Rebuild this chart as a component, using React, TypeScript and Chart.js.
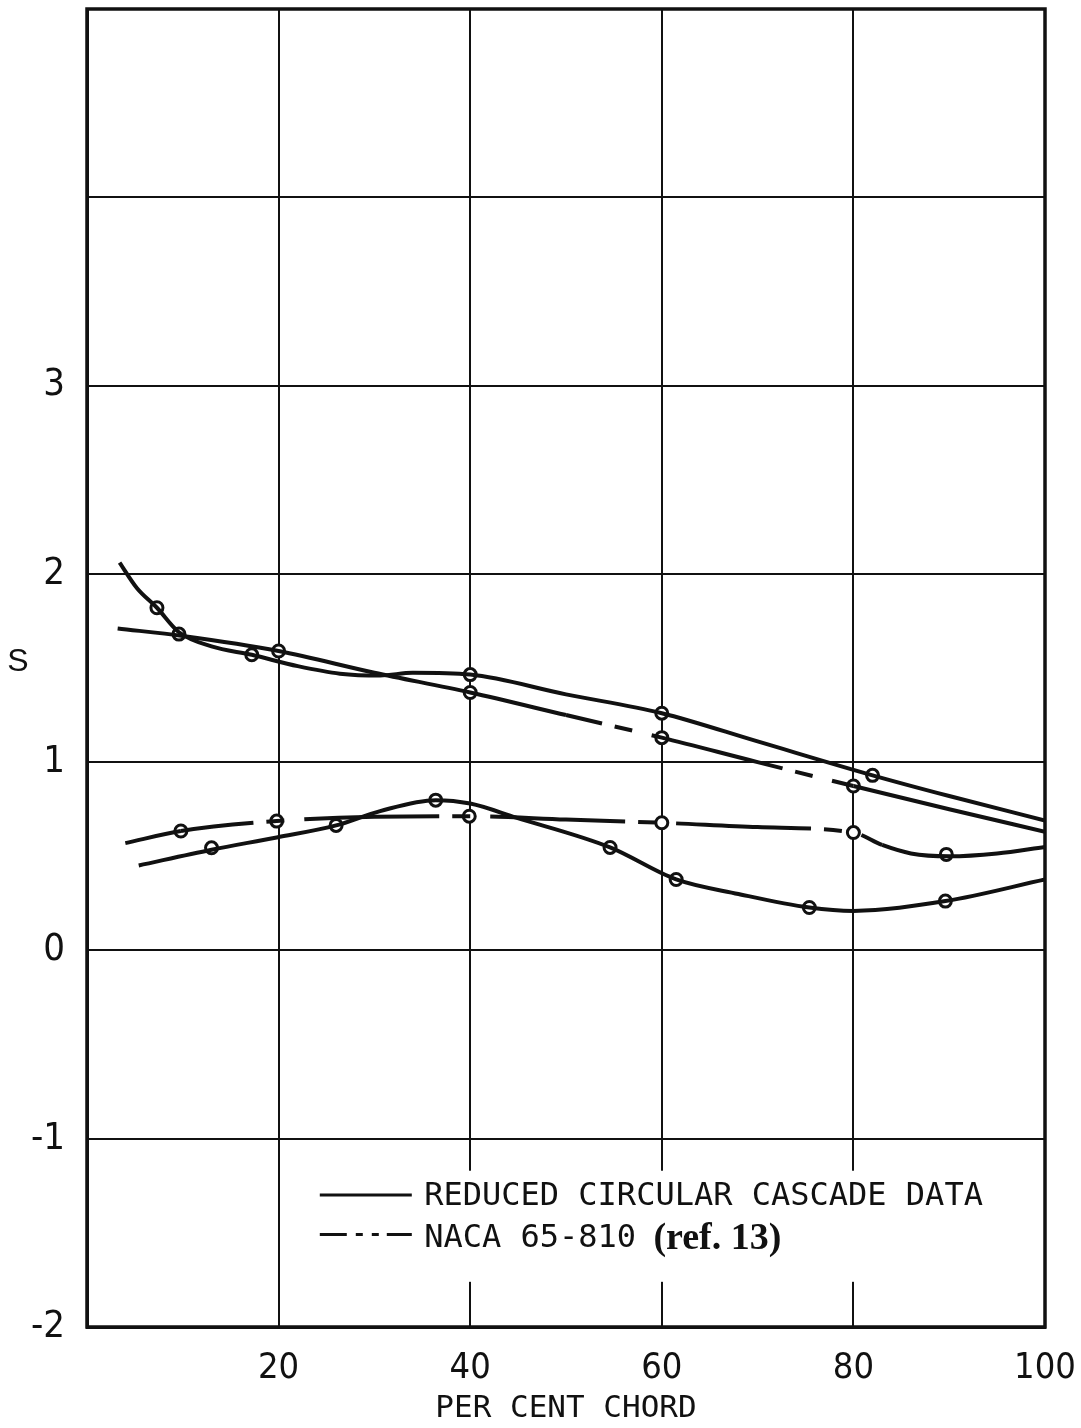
import React, { useEffect, useRef } from 'react';
import { Chart, registerables } from 'chart.js';

Chart.register(...registerables);

// ---- data (per cent chord, S) ----
const circUpperX = [3.4, 5.2, 7.3, 9.6, 13, 17.2, 22, 26.4, 30.6, 34, 40, 50, 60, 70, 82, 90, 100];
const circUpperS = [2.06, 1.925, 1.82, 1.69, 1.615, 1.57, 1.51, 1.47, 1.46, 1.475, 1.465, 1.36, 1.26, 1.11, 0.93, 0.82, 0.69];
const circUpperMarkX = [7.3, 9.6, 17.2, 40, 60, 82];
const circUpperMarkS = [1.82, 1.68, 1.57, 1.465, 1.26, 0.93];

const nacaUpperX = [3.2, 10, 20, 30, 40, 50, 60, 70, 80, 90, 100];
const nacaUpperS = [1.71, 1.67, 1.59, 1.475, 1.37, 1.25, 1.13, 1.0, 0.873, 0.75, 0.63];
const nacaUpperMarkX = [20, 40, 60, 80];
const nacaUpperMarkS = [1.59, 1.37, 1.13, 0.873];

const nacaLowerX = [4, 9.8, 19.8, 30, 40, 50, 60, 70, 80, 83, 86, 90, 95, 100];
const nacaLowerS = [0.57, 0.634, 0.687, 0.71, 0.713, 0.695, 0.678, 0.655, 0.626, 0.56, 0.515, 0.5, 0.515, 0.55];
const nacaLowerMarkX = [9.8, 19.8, 39.9, 60, 80, 89.7];
const nacaLowerMarkS = [0.634, 0.687, 0.713, 0.678, 0.626, 0.51];

const circLowerX = [5.4, 13, 19.8, 26, 30.6, 36.4, 40, 44.8, 54.6, 61.5, 68, 75.4, 80, 89.6, 100];
const circLowerS = [0.451, 0.535, 0.6, 0.664, 0.74, 0.798, 0.78, 0.705, 0.547, 0.377, 0.3, 0.228, 0.21, 0.262, 0.377];
const circLowerMarkX = [13, 26, 36.4, 54.6, 61.5, 75.4, 89.6];
const circLowerMarkS = [0.545, 0.664, 0.798, 0.547, 0.377, 0.228, 0.262];

const xTickLabels = [20, 40, 60, 80, 100];
const yTickLabels = [-2, -1, 0, 1, 2, 3];
const xTitle = 'PER CENT CHORD';
const yTitle = 'S';
const legendSolid = 'REDUCED CIRCULAR CASCADE DATA';
const legendDashed = 'NACA 65-810 ';
const legendRef = '(ref. 13)';

const zip = (xs: number[], ys: number[]) => xs.map((x, i) => ({ x, y: ys[i] }));

const INK = '#111';
const DASH = [135, 13, 18, 20];
const MONO = "'DejaVu Sans Mono', 'Liberation Mono', monospace";
const TICKFONT = "'Liberation Sans Narrow', 'DejaVu Sans Condensed', 'Liberation Sans', sans-serif";

const curve = (data: { x: number; y: number }[], dashFrom?: number, dashTo?: number, offset?: number) => ({
  data,
  borderColor: INK,
  borderWidth: 4,
  borderDash: [],
  borderCapStyle: 'butt' as const,
  pointRadius: 0,
  pointHoverRadius: 0,
  cubicInterpolationMode: 'monotone' as const,
  fill: false,
  showLine: true,
  segment:
    dashFrom === undefined
      ? undefined
      : {
          borderDash: (c: any) => (c.p0.parsed.x >= dashFrom && c.p0.parsed.x < (dashTo as number) ? DASH : undefined),
          borderDashOffset: (c: any) => (c.p0.parsed.x >= dashFrom && c.p0.parsed.x < (dashTo as number) ? offset : undefined),
        },
});

const marks = (data: { x: number; y: number }[]) => ({
  data,
  showLine: false,
  pointRadius: 6,
  pointHoverRadius: 6,
  pointBorderWidth: 3,
  pointBorderColor: INK,
  pointBackgroundColor: '#fff',
  borderColor: INK,
});

const decorPlugin = {
  id: 'decor',
  beforeDatasetsDraw(chart: any) {
    const { ctx, chartArea } = chart;
    ctx.save();
    ctx.strokeStyle = INK;
    ctx.lineWidth = 3.5;
    ctx.strokeRect(chartArea.left, chartArea.top, chartArea.right - chartArea.left, chartArea.bottom - chartArea.top);
    ctx.restore();
  },
  afterDraw(chart: any) {
    const { ctx } = chart;
    const xs = chart.scales.x;
    const ys = chart.scales.y;
    ctx.save();
    // legend box
    const bl = xs.getPixelForValue(22.3);
    const br = xs.getPixelForValue(95.5);
    const bt = ys.getPixelForValue(-1.17);
    const bb = ys.getPixelForValue(-1.76);
    ctx.fillStyle = '#fff';
    ctx.fillRect(bl, bt, br - bl, bb - bt);

    const lx = xs.getPixelForValue(24.3);
    const tx = xs.getPixelForValue(35.2);
    const y1 = ys.getPixelForValue(-1.31);
    const y2 = ys.getPixelForValue(-1.53);
    ctx.strokeStyle = INK;
    ctx.lineWidth = 3;
    ctx.lineCap = 'butt';
    ctx.beginPath();
    ctx.moveTo(lx, y1 - 2);
    ctx.lineTo(lx + 92, y1 - 2);
    ctx.stroke();
    ctx.beginPath();
    ctx.moveTo(lx, y2 - 4);
    ctx.lineTo(lx + 27, y2 - 4);
    ctx.moveTo(lx + 36, y2 - 4);
    ctx.lineTo(lx + 43, y2 - 4);
    ctx.moveTo(lx + 52, y2 - 4);
    ctx.lineTo(lx + 59, y2 - 4);
    ctx.moveTo(lx + 67, y2 - 4);
    ctx.lineTo(lx + 92, y2 - 4);
    ctx.stroke();

    ctx.fillStyle = INK;
    ctx.textBaseline = 'middle';
    ctx.textAlign = 'left';
    ctx.font = `32px ${MONO}`;
    ctx.fillText(legendSolid, tx, y1);
    ctx.fillText(legendDashed, tx, y2);
    const w = ctx.measureText(legendDashed).width;
    ctx.font = `bold 38px 'Liberation Serif', 'DejaVu Serif', serif`;
    ctx.fillText(legendRef, tx + w - 2, y2 + 1);

    // y title (upright)
    ctx.font = `32px 'Liberation Sans', sans-serif`;
    ctx.textAlign = 'center';
    ctx.fillText(yTitle, 18, ys.getPixelForValue(1.53));
    ctx.restore();
  },
};

export default function App() {
  const ref = useRef<HTMLCanvasElement | null>(null);
  useEffect(() => {
    if (!ref.current) return;
    const chart = new Chart(ref.current, {
      type: 'line',
      data: {
        datasets: [
          curve(zip(circUpperX, circUpperS)),
          curve(zip(nacaUpperX, nacaUpperS), 50, 80, 98),
          curve(zip(nacaLowerX, nacaLowerS), 9.8, 83, 62),
          curve(zip(circLowerX, circLowerS)),
          marks(zip(circUpperMarkX, circUpperMarkS)),
          marks(zip(nacaUpperMarkX, nacaUpperMarkS)),
          marks(zip(nacaLowerMarkX, nacaLowerMarkS)),
          marks(zip(circLowerMarkX, circLowerMarkS)),
        ] as any,
      },
      options: {
        animation: false,
        responsive: false,
        events: [],
        layout: { padding: { top: 9, right: 36, left: 0, bottom: 0 } },
        plugins: { legend: { display: false }, tooltip: { enabled: false }, title: { display: false } },
        scales: {
          x: {
            type: 'linear',
            min: 0,
            max: 100,
            afterFit: (s: any) => {
              s.height = 101;
              s.paddingLeft = 0;
              s.paddingRight = 0;
            },
            afterBuildTicks: (s: any) => { s.ticks = [0, ...xTickLabels].map((v) => ({ value: v })); },
            ticks: {
              padding: 20,
              color: INK,
              font: { family: TICKFONT, size: 36 },
              callback: (v: any) => (xTickLabels.includes(Number(v)) ? String(v) : ''),
              maxRotation: 0,
              autoSkip: false,
            },
            grid: { color: INK, lineWidth: 2, drawTicks: false },
            border: { color: INK, width: 3 },
            title: { display: true, text: xTitle, color: INK, font: { family: MONO, size: 31 }, padding: { top: 0, bottom: 0 } },
          },
          y: {
            type: 'linear',
            min: -2,
            max: 5,
            afterFit: (s: any) => {
              s.width = 87;
              s.paddingTop = 0;
              s.paddingBottom = 0;
            },
            afterBuildTicks: (s: any) => { s.ticks = [-2, -1, 0, 1, 2, 3, 4, 5].map((v) => ({ value: v })); },
            ticks: {
              padding: 22,
              color: INK,
              font: { family: TICKFONT, size: 38 },
              callback: (v: any) => (yTickLabels.includes(Number(v)) ? String(v) : ''),
              autoSkip: false,
            },
            grid: { color: INK, lineWidth: 2, drawTicks: false },
            border: { color: INK, width: 3 },
          },
        },
      },
      plugins: [decorPlugin],
    });
    return () => chart.destroy();
  }, []);
  return (
    <div style={{ position: 'absolute', left: 0, top: 0, width: 1081, height: 1428, background: '#fff' }}>
      <canvas ref={ref} width={1081} height={1428} />
    </div>
  );
}
